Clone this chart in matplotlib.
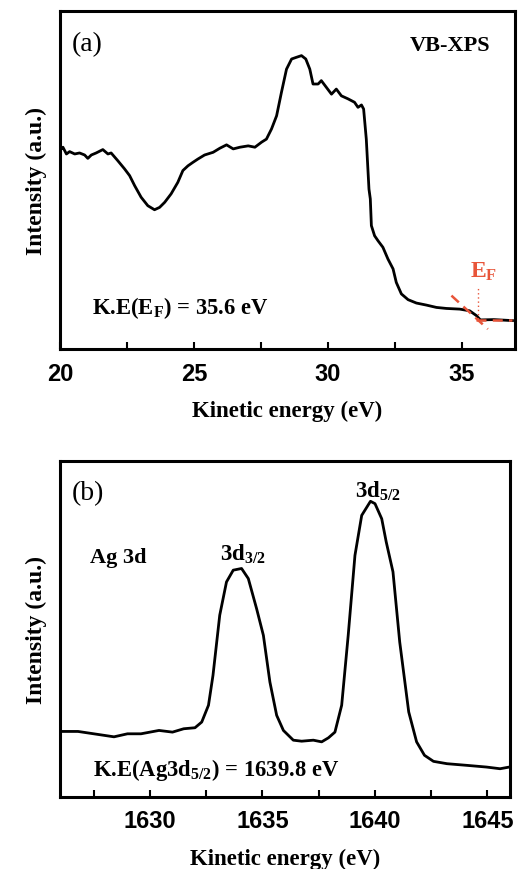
"""
VB-XPS valence band edge (a) and Ag 3d core level (b), kinetic energy scale.
"""

import numpy as np
import matplotlib.pyplot as plt
from matplotlib.ticker import MultipleLocator

plt.rcParams['font.family'] = 'Liberation Serif'
plt.rcParams['mathtext.fontset'] = 'custom'
plt.rcParams['mathtext.rm'] = 'Liberation Serif:bold'
plt.rcParams['mathtext.bf'] = 'Liberation Serif:bold'
plt.rcParams['mathtext.it'] = 'Liberation Serif:bold'

# valence band spectrum, kinetic energy (eV) vs intensity (a.u.)
vb_ke = [20.05, 20.11, 20.24, 20.36, 20.55, 20.73, 20.92, 21.04, 21.17, 21.35,
         21.60, 21.79, 21.91, 22.16, 22.41, 22.60, 22.79, 23.03, 23.28, 23.53,
         23.72, 23.91, 24.15, 24.40, 24.59, 24.78, 24.96, 25.15, 25.40, 25.72,
         25.97, 26.22, 26.47, 26.72, 27.03, 27.28, 27.53, 27.71, 27.90, 28.09,
         28.27, 28.46, 28.65, 28.83, 29.02, 29.18, 29.33, 29.45, 29.64, 29.76,
         29.95, 30.14, 30.32, 30.51, 30.76, 31.00, 31.13, 31.26, 31.34, 31.44,
         31.54, 31.59, 31.63, 31.75, 31.88, 32.06, 32.25, 32.44, 32.56, 32.75,
         33.00, 33.31, 33.68, 34.06, 34.43, 34.93, 35.30, 35.55, 35.70, 36.20,
         36.90]
vb_int = [59.2, 59.7, 57.7, 58.4, 57.7, 58.0, 57.4, 56.4, 57.4, 58.0,
          59.0, 57.7, 58.0, 55.7, 53.3, 51.3, 48.3, 44.9, 42.4, 41.2,
          41.9, 43.4, 45.9, 49.3, 52.8, 54.2, 55.2, 56.2, 57.4, 58.2,
          59.4, 60.4, 59.2, 59.7, 60.1, 59.7, 61.2, 62.1, 65.1, 69.0,
          75.9, 82.8, 85.8, 86.3, 86.8, 85.8, 82.8, 78.4, 78.4, 79.4,
          77.4, 75.4, 76.9, 74.9, 74.0, 73.0, 71.5, 72.2, 71.0, 62.1,
          47.3, 44.4, 36.5, 33.5, 32.0, 30.1, 26.6, 23.7, 19.7, 16.3,
          14.6, 13.6, 13.0, 12.3, 12.0, 11.8, 11.3, 9.9, 8.6, 8.7,
          8.4]

# Fermi edge construction
ef_value = 35.6
tangent_ke = [34.62, 35.98]
tangent_int = [15.8, 5.9]
baseline_ke = [35.55, 36.90]
baseline_int = [8.6, 8.6]

# Ag 3d spectrum
ag_ke = [1626.07, 1626.8, 1627.5, 1628.4, 1629.0, 1629.6, 1630.4, 1631.0, 1631.5, 1632.0,
         1632.3, 1632.6, 1632.8, 1633.1, 1633.4, 1633.7, 1634.07, 1634.37, 1634.74, 1635.04,
         1635.33, 1635.63, 1635.93, 1636.37, 1636.74, 1637.26, 1637.63, 1637.93, 1638.22, 1638.52,
         1638.81, 1639.11, 1639.41, 1639.8, 1640.0, 1640.3, 1640.5, 1640.8, 1641.1, 1641.5,
         1641.85, 1642.2, 1642.6, 1643.2, 1644.1, 1644.96, 1645.56, 1645.97]
ag_int = [19.5, 19.5, 18.8, 17.9, 18.8, 18.8, 19.8, 19.3, 20.3, 20.6,
          22.3, 27.3, 36.2, 54.1, 64.0, 67.5, 68.0, 65.0, 56.0, 48.1,
          34.2, 24.3, 19.8, 16.9, 16.6, 16.9, 16.4, 17.6, 19.3, 27.3,
          48.1, 71.9, 83.8, 88.0, 87.3, 82.8, 75.9, 67.0, 46.1, 25.3,
          16.4, 12.4, 10.6, 9.9, 9.4, 8.9, 8.4, 8.9]
ag_peak = 1639.8

RED = '#E8553A'


def style_axes(ax, xlim, major):
    ax.set_xlim(*xlim)
    ax.set_ylim(0, 100)
    ax.set_yticks([])
    ax.xaxis.set_major_locator(MultipleLocator(major))
    ax.xaxis.set_minor_locator(MultipleLocator(major / 2))
    ax.tick_params(axis='x', which='both', direction='in', length=5, width=1.5, pad=9)
    for lab in ax.get_xticklabels():
        lab.set_fontfamily('Liberation Sans')
        lab.set_fontweight('bold')
        lab.set_fontsize(17)
    for sp in ax.spines.values():
        sp.set_linewidth(2.2)
    ax.set_xlabel('Kinetic energy (eV)', fontsize=16.5, fontweight='bold', labelpad=11)
    ax.set_ylabel('Intensity (a.u.)', fontsize=17, fontweight='bold', labelpad=9)


fig = plt.figure(figsize=(5.19, 8.70), dpi=100)
ax1 = fig.add_axes([0.1156, 0.5977, 0.877, 0.3885])
ax2 = fig.add_axes([0.1156, 0.0828, 0.867, 0.3862])

# (a) valence band
ax1.plot(vb_ke, vb_int, c='k', lw=2.0)
ax1.plot(tangent_ke, tangent_int, c=RED, ls=(0, (4, 2.5)), lw=1.8)
ax1.plot(baseline_ke, baseline_int, c=RED, ls=(0, (4, 2.5)), lw=1.8)
ax1.plot([ef_value, ef_value], [8.9, 18.7], c=RED, ls=(0, (1, 2)), lw=1.0)
ax1.text(ef_value + 0.22, 23.2, r'E$_\mathrm{F}$', color=RED, fontsize=17,
         fontweight='bold', ha='center', va='center')
style_axes(ax1, (20, 37), 5)
ax1.text(0.026, 0.905, '(a)', transform=ax1.transAxes, fontsize=20, va='center')
ax1.text(0.945, 0.9, 'VB-XPS', transform=ax1.transAxes, fontsize=16,
         fontweight='bold', ha='right', va='center')
ax1.text(0.07, 0.124, r'K.E(E$_\mathrm{F}$) = %.1f eV' % ef_value, transform=ax1.transAxes,
         fontsize=16.3, fontweight='bold', va='center')

# (b) Ag 3d
ax2.plot(ag_ke, ag_int, c='k', lw=2.0)
style_axes(ax2, (1626, 1646), 5)
ax2.text(0.026, 0.905, '(b)', transform=ax2.transAxes, fontsize=20, va='center')
ax2.text(0.067, 0.714, 'Ag 3d', transform=ax2.transAxes, fontsize=16,
         fontweight='bold', va='center')
ax2.text(1634.13, 72.6, r'3d$_{3/2}$', fontsize=16.5, fontweight='bold',
         ha='center', va='center')
ax2.text(1640.13, 91.2, r'3d$_{5/2}$', fontsize=16.5, fontweight='bold',
         ha='center', va='center')
ax2.text(0.073, 0.083, r'K.E(Ag3d$_{5/2}$) = %.1f eV' % ag_peak, transform=ax2.transAxes,
         fontsize=16.3, fontweight='bold', va='center')

fig.savefig('out.png', dpi=100)
